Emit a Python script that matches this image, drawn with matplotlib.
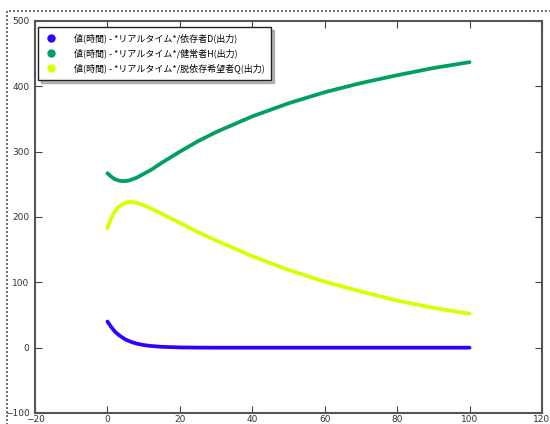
import matplotlib
matplotlib.use("Agg")
import matplotlib.pyplot as plt
from matplotlib.patches import Rectangle

plt.rcParams['font.family'] = ['Noto Sans CJK JP', 'DejaVu Sans']

# time axis and the three simulated series
t = [0, 1, 2, 3, 4, 5, 6, 7, 8, 10, 12, 15, 20, 25, 30, 40, 50, 60, 70, 80, 90, 100]
dependent_D = [40, 32, 25, 20, 16, 12.5, 10, 8, 6.3, 4, 2.6, 1.3, 0.4, 0.1, 0, 0, 0, 0, 0, 0, 0, 0]
healthy_H = [267, 262, 258, 256, 255, 255, 256, 258, 260, 266, 272, 283, 300, 316, 330, 354, 374, 391, 405, 417, 428, 437]
quit_Q = [183, 198, 208, 215, 219, 222, 223, 223, 222, 218, 213, 205, 191, 177, 164, 140, 119, 101, 86, 72, 61, 52]

labels = [
    "値(時間) - *リアルタイム*/依存者D(出力)",
    "値(時間) - *リアルタイム*/健常者H(出力)",
    "値(時間) - *リアルタイム*/脱依存希望者Q(出力)",
]
colors = ["#3300ff", "#00a060", "#d8ff00"]

xticks = [-20, 0, 20, 40, 60, 80, 100, 120]
yticks = [-100, 0, 100, 200, 300, 400, 500]

fig = plt.figure(figsize=(5.5, 4.24), dpi=100)
fig.patch.set_facecolor("white")

# dotted frame around the plot area
frame = Rectangle((7 / 550, -0.1), 1.2, 0.974 + 0.1, transform=fig.transFigure,
                  fill=False, linestyle=(0, (1.2, 1.2)), linewidth=1.2,
                  edgecolor="#555555", zorder=0)
fig.patches.append(frame)

ax = fig.add_axes([35 / 550, 1 - 413 / 424, (542 - 35) / 550, (413 - 21) / 424])

for series, lab, col in zip([dependent_D, healthy_H, quit_Q], labels, colors):
    ax.plot(t, series, color=col, linewidth=2.7, solid_capstyle="round",
            solid_joinstyle="round")
    ax.plot([], [], linestyle="none", marker="o", markersize=5,
            color=col, label=lab)

ax.set_xlim(-20, 120)
ax.set_ylim(-100, 500)
ax.set_xticks(xticks)
ax.set_yticks(yticks)
ax.tick_params(direction="in", top=True, right=True, length=5, width=0.8,
               color="#444444", labelsize=6.5, labelcolor="#333333", pad=4)
ax.tick_params(axis="x", pad=1.5)
for lbl in ax.get_xticklabels() + ax.get_yticklabels():
    lbl.set_family("DejaVu Sans")
for sp in ax.spines.values():
    sp.set_linewidth(1.5)
    sp.set_color("#555555")

handles = [h for h in ax.get_lines() if h.get_label() in labels]
leg = ax.legend(handles=handles, loc="upper left", fontsize=6.5, frameon=True,
                fancybox=False, shadow={"ox": 2, "oy": -2, "color": "#777777"},
                numpoints=1, handlelength=1.5, borderpad=0.7, labelspacing=0.6,
                handletextpad=1.8, borderaxespad=0,
                bbox_to_anchor=(3 / 507, 1 - 6 / 392))
leg.get_frame().set_edgecolor("#222222")
leg.get_frame().set_linewidth(1.0)

fig.savefig("out.png", dpi=100, facecolor="white")
